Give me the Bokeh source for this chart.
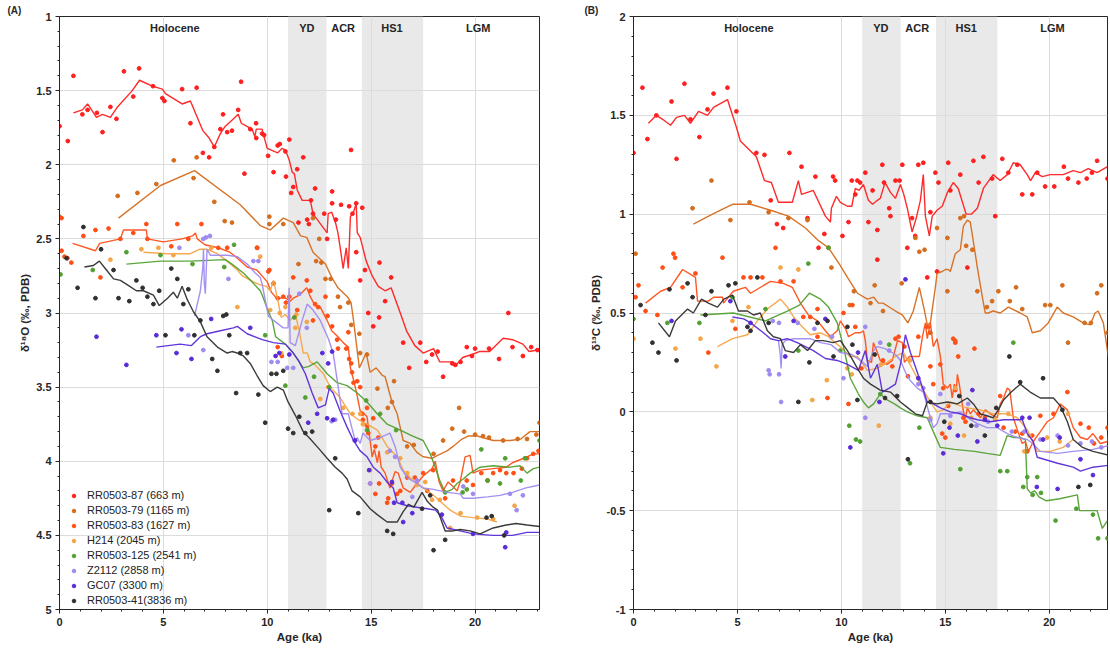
from bokeh.plotting import figure
from bokeh.models import (Range1d, SingleIntervalTicker, BoxAnnotation, Label,
                          Legend, LegendItem, CustomJSTickFormatter)
from bokeh.layouts import row
from bokeh.embed import file_html
from bokeh.resources import INLINE

FONT = "Liberation Sans"
INK = "#262626"

# ---------------------------------------------------------------- metadata
CORES = ["RR0503-87 (663 m)", "RR0503-79 (1165 m)", "RR0503-83 (1627 m)", "H214 (2045 m)",
         "RR0503-125 (2541 m)", "Z2112 (2858 m)", "GC07 (3300 m)", "RR0503-41(3836 m)"]
COLORS = ["#ff1f1f", "#d56d1e", "#ff4f17", "#f5a447", "#52a032", "#9f8bf0", "#5a2cd8", "#303030"]

INTERVAL_NAMES = ["Holocene", "YD", "ACR", "HS1", "LGM"]
INTERVAL_CENTERS = [5.55, 11.9, 13.65, 16.0, 20.15]
SHADED_BANDS = [(11.0, 12.85), (14.55, 17.5)]

# ---------------------------------------------------------------- d18O (panel A): (age ka, permil)
rr87_d18o_line = [(0.67,1.65),(1.1,1.63),(1.35,1.59),(1.78,1.68),(2.07,1.66),(2.45,1.68),(2.79,1.61),(3.5,1.50),(3.85,1.43),(4.47,1.47),(4.95,1.49),(5.1,1.52),(5.9,1.59),(6.3,1.57),(6.9,1.77),(7.2,1.82),(7.45,1.88),(7.74,1.79),(7.98,1.74),(8.3,1.70),(8.6,1.66),(8.75,1.72),(9.0,1.74),(9.27,1.76),(9.4,1.81),(9.47,1.76),(9.75,1.76),(9.8,1.79),(10.0,1.89),(10.5,1.92),(10.7,1.89),(10.87,1.90),(11.06,1.97),(11.2,2.05),(11.3,2.06),(11.44,2.17),(11.54,2.20),(11.68,2.24),(12.07,2.24),(12.2,2.33),(12.3,2.35),(12.88,2.46),(12.93,2.33),(13.1,2.32),(13.3,2.40),(13.4,2.46),(13.55,2.60),(13.65,2.70),(13.8,2.56),(13.9,2.70),(14.0,2.35),(14.15,2.32),(14.28,2.26),(14.33,2.46),(14.47,2.49),(14.76,2.65),(15.05,2.75),(15.34,2.82),(15.67,2.85),(15.96,2.83),(16.4,3.0),(16.7,3.12),(17.1,3.22),(17.5,3.27),(18.0,3.24),(18.3,3.33),(18.9,3.33),(19.1,3.35),(19.4,3.30),(19.85,3.28),(20.2,3.26),(20.7,3.26),(21.35,3.17),(21.8,3.18),(22.3,3.21),(22.6,3.26),(23.0,3.25)]
rr87_d18o_pts = [(0.0,1.74),(0.4,1.84),(0.67,1.40),(1.1,1.66),(1.35,1.63),(1.8,1.65),(2.07,1.78),(2.45,1.61),(2.74,1.69),(3.1,1.37),(3.55,1.54),(3.83,1.35),(4.5,1.47),(4.95,1.55),(5.05,1.57),(5.9,1.49),(6.3,1.72),(6.6,1.48),(6.9,1.92),(7.2,1.95),(7.45,1.88),(7.74,1.76),(7.87,1.66),(8.07,1.78),(8.3,1.77),(8.6,1.63),(8.74,1.44),(8.9,2.06),(9.18,1.76),(9.46,1.72),(9.47,1.82),(9.75,1.79),(9.85,1.80),(10.04,1.94),(10.3,2.05),(10.5,1.87),(10.6,1.86),(10.87,1.91),(10.9,2.08),(11.06,1.83),(11.15,2.19),(11.25,2.15),(11.44,2.03),(11.5,2.39),(11.73,1.95),(11.92,2.37),(12.0,2.40),(12.1,2.24),(12.3,2.16),(12.2,2.33),(12.74,2.33),(12.88,2.50),(13.12,2.18),(13.12,2.26),(13.3,2.37),(13.55,2.27),(13.94,2.28),(14.03,1.90),(14.1,2.33),(14.28,2.26),(14.57,2.29),(14.28,2.59),(14.47,2.78),(14.7,2.71),(15.4,2.66),(15.96,2.76),(15.67,2.92),(14.86,3.0),(15.1,3.09),(15.38,3.03),(16.54,3.2),(16.83,3.37),(17.36,3.2),(17.65,3.33),(17.93,3.28),(18.2,3.26),(18.46,3.43),(18.9,3.34),(19.05,3.35),(19.3,3.33),(19.6,3.23),(19.85,3.29),(20.0,3.24),(20.67,3.24),(21.15,3.31),(21.6,3.0),(21.8,3.23),(22.3,3.29),(22.7,3.23),(23.0,3.25)]

rr79_d18o_line = [(2.84,2.36),(4.86,2.14),(6.5,2.04),(8.7,2.27),(9.66,2.41),(10.14,2.44),(10.77,2.36),(11.25,2.39),(11.6,2.48),(11.9,2.49),(12.2,2.59),(12.5,2.63),(12.8,2.67),(13.1,2.76),(13.4,2.83),(13.85,2.89),(14.03,2.93),(14.15,3.05),(14.28,3.2),(14.43,3.37),(14.76,3.27),(14.95,3.4),(15.24,3.37),(15.53,3.42),(15.67,3.43),(16.0,3.6),(16.25,3.68),(16.54,3.86),(16.88,3.88),(17.2,3.94),(17.5,3.97),(17.93,3.98),(18.2,3.96),(18.65,3.93),(18.94,3.9),(19.37,3.85),(19.66,3.83),(20.1,3.83),(20.87,3.86),(21.7,3.86),(22.2,3.85),(22.64,3.8),(23.1,3.8)]
rr79_d18o_pts = [(0.0,2.35),(2.8,2.21),(3.75,2.19),(4.66,2.13),(5.5,1.97),(6.45,2.09),(6.6,1.95),(7.45,2.25),(7.95,2.38),(8.3,2.39),(9.5,2.56),(10.1,2.35),(10.1,2.40),(10.77,2.40),(11.5,2.67),(12.2,2.36),(12.5,2.50),(12.35,2.65),(12.6,2.66),(12.8,2.77),(13.05,2.77),(13.4,2.89),(13.5,2.96),(13.9,2.93),(14.04,3.08),(14.43,3.14),(14.47,3.27),(14.8,3.28),(15.3,3.51),(15.8,3.64),(16.0,3.60),(16.1,3.46),(16.73,3.90),(17.05,3.89),(18.0,3.95),(18.46,3.86),(18.9,3.78),(19.23,3.64),(19.47,3.80),(20.0,3.82),(20.38,3.83),(20.67,3.84),(21.35,3.86),(22.05,3.85),(22.5,3.85),(22.95,3.82),(23.1,3.74)]

rr83_d18o_line = [(0.63,2.53),(1.73,2.58),(1.93,2.53),(2.93,2.50),(3.08,2.44),(4.18,2.44),(4.23,2.50),(5.0,2.52),(5.9,2.50),(6.4,2.48),(6.54,2.46),(6.63,2.50),(7.0,2.54),(7.64,2.56),(8.2,2.59),(8.56,2.63),(9.03,2.69),(9.5,2.71),(10.0,2.79),(10.2,2.86),(10.5,2.91),(10.77,2.89),(11.1,2.92),(11.25,2.90),(11.54,2.88),(11.9,2.83),(12.07,2.89),(12.3,2.95),(12.55,2.96),(12.88,3.05),(13.1,3.12),(13.4,3.16),(13.65,3.2),(13.9,3.23),(14.0,3.37),(14.15,3.45),(14.3,3.54),(14.47,3.66),(14.66,3.68),(14.8,3.70),(14.9,3.81),(15.05,3.97),(15.15,3.92),(15.3,4.01),(15.38,3.93),(15.48,4.04),(15.67,4.08),(15.9,4.18),(16.15,4.07),(16.3,4.08),(16.54,4.18),(16.88,4.21),(17.2,4.15),(17.5,4.1),(17.93,4.05),(18.08,4.0),(18.27,4.14),(18.46,4.2),(18.7,4.14),(18.94,4.17),(19.13,4.2),(19.28,4.14),(19.52,3.97),(19.76,3.96),(19.9,4.08),(20.24,4.06),(20.87,4.05),(21.5,4.04),(21.8,4.01),(22.16,3.99),(22.5,3.97),(22.8,3.95),(23.1,3.95)]
rr83_d18o_pts = [(0.1,2.36),(0.1,2.58),(0.24,2.62),(0.38,2.63),(0.57,2.66),(1.15,2.48),(1.73,2.44),(1.97,2.76),(2.36,2.43),(2.93,2.5),(3.55,2.46),(4.18,2.40),(4.23,2.5),(5.38,2.55),(5.67,2.40),(6.2,2.5),(6.83,2.40),(7.64,2.56),(8.07,2.56),(9.52,2.56),(10.05,2.72),(10.1,2.71),(10.3,2.80),(10.5,2.90),(10.5,3.23),(10.7,3.29),(10.77,2.89),(10.9,2.93),(11.06,2.89),(11.25,2.76),(11.44,2.98),(11.9,2.78),(12.07,2.85),(12.2,3.05),(12.3,2.94),(12.45,2.96),(12.8,2.89),(12.9,3.02),(13.12,3.09),(13.36,3.18),(13.4,3.24),(13.8,3.24),(13.9,3.13),(13.94,3.31),(14.04,3.34),(14.08,3.40),(14.15,3.47),(14.33,3.46),(14.47,3.5),(14.57,3.68),(14.6,3.72),(14.8,3.64),(14.8,3.76),(14.86,3.81),(15.1,3.71),(15.2,3.90),(15.34,3.84),(14.95,4.15),(15.2,4.22),(15.38,4.15),(15.82,4.25),(15.77,4.28),(16.0,4.15),(16.25,4.22),(16.4,4.20),(16.73,4.11),(17.1,4.11),(17.5,4.08),(17.7,4.20),(17.98,4.06),(18.56,4.25),(18.94,4.13),(19.6,4.13),(19.9,4.16),(20.3,4.08),(20.6,4.13),(20.87,4.08),(21.2,4.06),(21.5,4.08),(21.85,4.08),(22.25,4.05),(22.5,3.98),(22.8,3.95),(23.05,3.93)]

h214_d18o_line = [(4.04,2.59),(5.2,2.6),(6.3,2.6),(6.73,2.57),(7.1,2.57),(7.6,2.6),(8.07,2.65),(8.56,2.71),(8.8,2.75),(9.33,2.79),(9.66,2.81),(9.95,2.82),(10.14,2.85),(10.3,2.78),(10.5,2.91),(10.67,3.03),(10.87,3.01),(11.1,3.05),(11.35,3.01),(11.54,3.12),(11.73,3.27),(11.92,3.27),(12.07,3.33),(12.3,3.35),(12.7,3.41),(13.03,3.5),(13.5,3.57),(14.0,3.68),(14.38,3.72),(14.8,3.75),(15.3,3.79),(15.77,3.9),(16.25,3.97),(16.54,4.06),(17.0,4.13),(17.5,4.18),(18.0,4.23),(18.4,4.28),(18.8,4.33),(19.3,4.37),(19.9,4.38),(20.6,4.39),(21.05,4.41)]
h214_d18o_pts = [(2.45,2.64),(3.94,2.57),(4.76,2.56),(5.48,2.61),(7.3,2.56),(8.56,2.96),(9.66,2.62),(10.14,2.98),(10.6,3.0),(10.67,3.27),(10.87,2.96),(11.35,3.1),(11.4,3.01),(11.9,3.06),(12.55,3.58),(12.93,3.50),(13.65,3.64),(14.1,3.68),(14.47,3.68),(14.6,3.75),(14.95,4.06),(15.77,3.94),(16.4,3.98),(16.73,4.08),(17.2,4.16),(17.6,4.14),(17.93,4.26),(18.3,4.26),(18.8,4.45),(19.3,4.35),(20.1,4.38),(20.87,4.39),(21.9,4.30)]

rr125_d18o_line = [(3.22,2.67),(4.86,2.65),(6.3,2.65),(7.98,2.64),(8.3,2.67),(8.85,2.73),(9.33,2.8),(9.66,2.85),(9.76,2.88),(10.05,2.99),(10.24,3.05),(10.4,3.16),(10.87,3.21),(11.25,3.27),(11.73,3.37),(12.0,3.36),(12.4,3.33),(12.88,3.41),(13.36,3.47),(13.84,3.49),(14.33,3.54),(14.8,3.6),(15.29,3.68),(15.77,3.75),(16.4,3.79),(17.0,3.83),(17.5,3.86),(17.84,3.95),(18.08,4.04),(18.3,4.13),(18.56,4.21),(18.9,4.19),(19.13,4.15),(19.43,4.12),(19.76,4.08),(20.24,4.04),(20.87,4.03),(21.68,4.04),(22.16,4.03),(22.5,4.08),(22.8,4.05),(23.1,4.04)]
rr125_d18o_pts = [(0.05,2.74),(1.6,2.71),(3.22,2.59),(4.86,2.61),(6.4,2.67),(7.93,2.69),(8.4,2.54),(9.9,3.15),(10.87,3.49),(11.3,3.03),(11.83,3.57),(12.25,3.43),(12.98,3.50),(14.76,3.59),(14.8,3.79),(15.43,3.68),(16.2,3.79),(18.56,4.21),(19.4,4.21),(19.6,4.19),(20.3,3.92),(20.6,4.13),(21.2,4.15),(21.45,3.98),(22.2,4.13),(22.4,3.98),(23.1,3.86)]

z2112_d18o_line = [(6.5,3.02),(6.78,2.85),(6.9,2.69),(6.93,2.57),(6.97,2.80),(7.02,2.87),(7.1,2.57),(7.26,2.61),(7.74,2.61),(8.07,2.61),(8.56,2.62),(9.03,2.67),(9.42,2.73),(9.66,2.76),(9.76,2.81),(10.05,3.02),(10.3,3.05),(10.77,3.1),(11.0,3.1),(11.05,2.83),(11.1,3.2),(11.35,3.22),(11.68,3.05),(11.92,2.94),(12.2,2.98),(12.55,3.05),(12.93,3.17),(13.17,3.27),(13.36,3.45),(13.6,3.68),(13.9,3.68),(14.08,3.78),(14.23,3.86),(14.33,3.84),(14.47,3.88),(14.6,3.81),(14.95,3.86),(15.43,3.84),(15.9,3.81),(16.15,3.9),(16.4,4.04),(16.73,4.11),(17.2,4.15),(17.5,4.18),(18.0,4.19),(18.65,4.21),(19.28,4.22),(19.43,4.25),(19.9,4.25),(20.6,4.24),(21.2,4.23),(21.8,4.21),(22.45,4.18),(23.1,4.16)]
z2112_d18o_pts = [(5.77,2.56),(6.2,3.15),(6.92,2.5),(7.05,2.49),(7.24,2.48),(6.92,3.25),(8.13,2.77),(9.33,2.65),(9.57,2.65),(10.2,3.33),(10.5,3.33),(10.96,3.37),(11.25,3.37),(11.54,2.87),(11.9,3.1),(13.1,3.73),(13.27,3.72),(14.2,3.86),(14.95,4.15),(15.9,3.93),(16.15,3.97),(16.98,4.24),(17.2,4.13),(19.43,4.17),(19.9,4.22),(21.68,4.22),(22.0,4.33),(22.3,4.23)]

gc07_d18o_line = [(4.66,3.23),(5.8,3.21),(6.35,3.22),(6.78,3.16),(7.1,3.14),(7.74,3.12),(8.37,3.1),(8.56,3.09),(9.03,3.14),(9.76,3.18),(10.29,3.2),(10.87,3.21),(11.25,3.27),(11.5,3.32),(11.83,3.41),(12.16,3.54),(12.45,3.64),(12.8,3.62),(12.98,3.51),(13.17,3.54),(13.5,3.66),(13.84,3.77),(14.15,3.86),(14.47,3.93),(14.8,3.97),(15.1,4.04),(15.43,4.08),(15.82,4.15),(16.06,4.18),(16.25,4.28),(16.73,4.3),(17.2,4.31),(17.7,4.32),(18.1,4.33),(18.4,4.38),(18.65,4.45),(19.28,4.47),(19.9,4.49),(20.87,4.5),(21.8,4.5),(22.5,4.48),(23.1,4.48)]
gc07_d18o_pts = [(1.78,3.16),(3.22,3.35),(4.66,3.15),(5.63,3.27),(5.87,3.11),(6.35,3.31),(7.3,3.04),(9.18,3.1),(10.4,3.29),(10.58,3.27),(11.06,3.28),(11.97,3.74),(12.4,3.68),(12.65,3.27),(12.88,3.71),(12.93,3.34),(13.12,3.26),(13.17,3.72),(14.23,3.86),(14.9,4.06),(16.0,4.14),(16.1,4.28),(16.5,4.28),(16.54,4.41),(16.98,4.35),(18.4,4.36),(19.9,4.49),(21.5,4.48),(21.45,4.58)]

rr41_d18o_line = [(1.2,2.69),(1.63,2.68),(1.92,2.65),(2.26,2.71),(2.6,2.77),(2.93,2.78),(3.27,2.81),(3.7,2.85),(4.04,2.85),(4.52,2.88),(4.8,2.95),(5.2,2.9),(5.48,2.86),(5.67,2.9),(5.9,2.82),(6.15,2.91),(6.44,2.99),(6.78,3.06),(7.1,3.16),(7.6,3.23),(8.07,3.27),(8.3,3.26),(8.56,3.27),(8.85,3.29),(9.18,3.34),(9.5,3.42),(9.8,3.49),(10.14,3.53),(10.48,3.50),(10.77,3.52),(11.0,3.6),(11.35,3.69),(11.73,3.8),(12.07,3.85),(12.45,3.91),(12.88,3.98),(13.27,4.04),(13.6,4.08),(13.84,4.12),(14.08,4.2),(14.47,4.24),(14.95,4.32),(15.29,4.36),(15.77,4.41),(16.25,4.41),(16.54,4.34),(16.8,4.29),(17.05,4.31),(17.45,4.21),(17.7,4.27),(17.98,4.31),(18.2,4.33),(18.56,4.47),(18.94,4.47),(19.28,4.46),(19.76,4.47),(20.24,4.49),(20.87,4.45),(21.5,4.43),(21.97,4.42),(22.5,4.43),(23.1,4.44)]
rr41_d18o_pts = [(0.34,2.63),(0.87,2.83),(1.15,2.42),(1.73,2.9),(2.0,2.57),(2.6,2.71),(2.84,2.9),(3.36,2.92),(3.7,2.78),(4.0,2.83),(4.23,2.89),(4.52,2.94),(4.8,2.85),(5.1,3.15),(5.38,2.7),(5.67,2.77),(5.96,2.94),(6.2,2.84),(6.49,3.15),(6.78,3.05),(7.35,3.31),(7.6,3.39),(7.88,3.02),(8.03,3.01),(8.17,3.15),(8.5,3.54),(8.7,3.27),(9.03,3.27),(9.57,3.55),(9.9,3.74),(10.2,3.41),(10.44,3.41),(10.77,3.39),(11.0,3.78),(11.25,3.81),(11.54,3.70),(11.83,3.81),(12.16,3.80),(12.98,4.33),(13.27,3.98),(14.38,4.35),(15.77,4.47),(16.06,4.49),(17.45,4.32),(17.84,4.23),(18.0,4.6),(18.56,4.53),(20.55,4.38),(20.8,4.37),(21.4,4.5)]

# ---------------------------------------------------------------- d13C (panel B): (age ka, permil)
rr87_d13c_line = [(0.72,1.46),(1.1,1.50),(1.4,1.48),(1.78,1.45),(2.07,1.49),(2.45,1.50),(2.74,1.46),(3.13,1.52),(3.56,1.50),(3.85,1.54),(4.52,1.58),(4.95,1.44),(5.14,1.37),(5.91,1.29),(6.3,1.17),(6.63,1.16),(6.97,1.06),(7.64,1.06),(7.93,1.17),(8.08,1.10),(8.65,1.12),(9.23,0.99),(9.47,0.96),(9.52,1.03),(9.76,1.09),(9.95,1.06),(10.29,1.04),(10.5,1.04),(10.67,1.13),(10.85,1.12),(11.06,1.15),(11.3,1.07),(11.5,1.05),(11.73,1.07),(11.87,1.08),(12.1,1.16),(12.36,1.11),(12.6,1.08),(12.84,1.15),(13.0,1.10),(13.17,1.03),(13.4,0.91),(13.6,0.98),(13.8,1.07),(13.94,1.2),(14.04,0.99),(14.23,0.89),(14.37,0.99),(14.6,1.02),(14.85,1.04),(15.1,1.11),(15.38,1.16),(15.62,1.13),(16.0,1.0),(16.25,1.0),(16.54,1.03),(16.83,1.13),(17.3,1.2),(17.64,1.17),(17.98,1.2),(18.27,1.26),(18.6,1.25),(18.94,1.2),(19.1,1.17),(19.33,1.21),(19.66,1.19),(20.05,1.2),(20.67,1.2),(21.15,1.22),(21.5,1.21),(21.87,1.23),(22.3,1.21),(22.8,1.24)]
rr87_d13c_pts = [(0.0,1.31),(0.43,1.64),(0.67,1.38),(1.1,1.50),(1.83,1.57),(2.07,1.28),(2.45,1.66),(2.74,1.48),(3.17,1.39),(3.56,1.53),(3.85,1.61),(4.52,1.64),(4.95,1.52),(5.91,1.31),(6.3,1.30),(6.6,1.07),(6.9,0.95),(7.2,0.93),(7.5,1.31),(8.08,1.24),(8.37,0.98),(8.75,1.19),(8.9,0.83),(9.18,0.90),(9.6,1.19),(9.7,1.17),(10.05,0.89),(10.34,0.96),(10.5,1.17),(10.67,1.10),(10.77,1.17),(10.9,1.16),(11.15,1.21),(11.3,0.96),(11.5,1.12),(11.73,0.92),(11.73,0.77),(11.97,1.25),(12.05,1.16),(12.3,1.03),(12.36,0.99),(12.6,1.17),(12.8,1.17),(12.93,1.25),(13.17,0.83),(13.4,0.98),(13.55,0.89),(13.7,1.25),(13.94,1.26),(14.13,0.68),(14.28,1.01),(14.52,1.21),(14.67,1.16),(14.6,0.71),(15.14,1.26),(15.24,1.12),(15.72,1.2),(16.06,0.73),(16.35,1.27),(16.6,1.16),(16.83,1.29),(17.25,1.18),(17.4,0.99),(17.74,1.28),(18.03,1.21),(18.46,1.25),(18.7,1.1),(19.18,1.1),(19.42,1.21),(19.8,1.14),(20.24,1.14),(20.7,1.24),(20.9,1.18),(21.4,1.16),(21.8,1.18),(22.05,1.21),(22.3,1.27),(22.8,1.18)]

rr79_d13c_line = [(2.88,0.95),(3.8,1.0),(4.76,1.05),(5.63,1.05),(6.6,1.02),(7.45,0.99),(8.27,0.93),(8.85,0.87),(9.38,0.83),(9.95,0.74),(10.29,0.68),(10.77,0.6),(11.25,0.57),(11.55,0.58),(11.78,0.55),(12.0,0.55),(12.6,0.51),(12.93,0.49),(13.2,0.45),(13.46,0.51),(13.75,0.63),(14.0,0.51),(14.13,0.44),(14.28,0.45),(14.52,0.63),(14.6,0.70),(14.85,0.71),(15.0,0.72),(15.14,0.72),(15.24,0.71),(15.48,0.8),(15.72,0.82),(15.87,0.94),(16.06,0.97),(16.2,0.96),(16.35,0.86),(16.54,0.73),(16.78,0.58),(16.92,0.50),(17.06,0.50),(17.3,0.51),(17.64,0.5),(18.03,0.53),(18.6,0.5),(18.94,0.48),(19.18,0.4),(19.57,0.41),(19.95,0.45),(20.38,0.53),(20.67,0.50),(21.15,0.48),(21.63,0.45),(21.97,0.44),(22.2,0.5),(22.35,0.51),(22.6,0.45),(22.84,0.28)]
rr79_d13c_pts = [(0.1,0.80),(2.84,1.03),(3.75,1.17),(4.66,0.97),(5.58,1.06),(6.5,1.01),(7.45,0.98),(8.37,0.97),(9.38,0.83),(9.52,0.73),(10.4,0.54),(10.6,0.61),(11.6,0.64),(11.4,0.55),(12.0,0.51),(12.9,0.65),(13.56,0.88),(13.75,0.81),(14.0,0.82),(14.28,0.4),(14.6,0.93),(15.1,0.88),(15.1,0.61),(15.48,0.36),(15.72,0.98),(15.9,0.99),(16.0,0.84),(16.3,0.82),(16.54,0.61),(17.0,0.53),(17.25,0.56),(17.55,0.61),(18.1,0.56),(18.4,0.63),(18.7,0.52),(19.8,0.54),(20.05,0.54),(20.63,0.64),(20.9,0.35),(21.7,0.45),(22.0,0.45),(22.3,0.60),(22.5,0.64),(22.8,0.4)]

rr83_d13c_line = [(0.58,0.55),(1.3,0.61),(1.78,0.63),(2.36,0.72),(2.98,0.68),(3.08,0.56),(3.6,0.56),(3.85,0.58),(4.28,0.58),(4.33,0.55),(4.8,0.61),(5.38,0.63),(5.63,0.6),(6.59,0.66),(7.2,0.65),(7.64,0.63),(8.03,0.55),(8.41,0.49),(8.85,0.46),(9.23,0.41),(9.47,0.38),(9.8,0.41),(9.95,0.46),(10.2,0.42),(10.34,0.38),(10.67,0.4),(10.91,0.40),(11.06,0.41),(11.15,0.36),(11.25,0.26),(11.45,0.25),(11.54,0.35),(11.73,0.30),(11.87,0.26),(12.0,0.25),(12.2,0.24),(12.45,0.26),(12.7,0.36),(12.93,0.35),(13.03,0.25),(13.27,0.28),(13.51,0.28),(13.75,0.28),(13.9,0.38),(14.04,0.45),(14.13,0.37),(14.28,0.45),(14.42,0.33),(14.6,0.37),(14.76,0.28),(14.9,0.14),(15.1,0.12),(15.24,0.14),(15.33,0.07),(15.43,0.14),(15.53,0.11),(15.58,0.19),(15.67,0.14),(15.87,0.0),(15.97,-0.03),(16.06,0.02),(16.2,-0.01),(16.35,0.01),(16.68,-0.03),(16.92,0.01),(17.16,-0.01),(17.5,-0.03),(17.64,0.04),(17.8,0.07),(17.98,0.12),(18.1,0.11),(18.27,-0.03),(18.46,-0.09),(18.7,-0.16),(18.85,-0.15),(19.0,-0.2),(19.23,-0.15),(19.57,-0.1),(19.9,-0.05),(20.2,-0.03),(20.53,0.04),(20.87,0.01),(21.15,-0.08),(21.5,-0.13),(21.83,-0.14),(22.1,-0.11),(22.45,-0.16),(22.8,-0.15),(22.95,-0.05)]
rr83_d13c_pts = [(0.1,0.58),(0.24,0.64),(0.58,0.51),(1.15,0.49),(1.4,0.73),(1.92,0.8),(2.0,0.78),(2.36,0.63),(2.98,0.7),(3.6,0.30),(4.28,0.78),(4.9,0.42),(5.29,0.68),(5.63,0.68),(6.2,0.68),(6.83,0.83),(7.07,0.66),(7.7,0.66),(8.17,0.48),(8.5,0.48),(8.85,0.52),(8.85,0.38),(9.33,0.07),(10.34,0.04),(10.53,0.54),(10.1,0.5),(10.67,0.43),(10.96,0.22),(12.0,0.26),(12.45,0.23),(12.6,0.37),(12.75,0.38),(13.03,0.33),(13.2,0.18),(13.7,0.38),(14.13,0.43),(14.28,0.23),(14.76,0.24),(14.42,0.14),(14.9,0.12),(14.85,-0.11),(15.0,-0.13),(15.14,0.03),(15.38,0.37),(15.48,0.35),(15.62,0.28),(15.48,0.11),(15.87,-0.03),(15.97,-0.05),(16.4,0.32),(16.6,-0.01),(16.9,-0.03),(17.64,0.08),(17.8,-0.08),(18.36,-0.1),(18.7,-0.11),(18.94,-0.2),(19.18,-0.12),(19.57,-0.02),(20.2,-0.01),(20.87,0.1),(21.5,-0.06),(21.9,-0.08),(22.15,-0.16),(22.5,-0.13),(22.8,-0.08)]

h214_d13c_line = [(4.04,0.33),(4.76,0.37),(5.48,0.39),(5.96,0.46),(6.44,0.52),(7.07,0.57),(7.4,0.53),(7.7,0.48),(8.12,0.43),(8.5,0.39),(9.0,0.40),(9.38,0.38),(9.7,0.35),(10.05,0.32),(10.4,0.28),(10.77,0.28),(11.25,0.21),(11.73,0.22),(12.2,0.25),(12.6,0.28),(12.98,0.30),(13.3,0.24),(13.65,0.17),(13.94,0.11),(14.28,0.05),(14.6,0.0),(14.9,0.01),(15.24,0.05),(15.72,0.03),(16.06,0.02),(16.68,0.01),(17.3,-0.01),(17.98,-0.01),(18.46,-0.03),(18.94,-0.09),(19.42,-0.2),(20.05,-0.2),(20.67,-0.18),(21.15,-0.14)]
h214_d13c_pts = [(0.0,0.37),(2.02,0.32),(3.22,0.37),(3.99,0.23),(4.76,0.46),(5.53,0.53),(7.07,0.73),(7.93,0.72),(8.6,0.06),(9.3,0.16),(10.29,0.22),(10.5,0.19),(11.8,-0.07),(11.9,0.24),(13.3,0.26),(14.28,-0.03),(15.24,-0.06),(15.48,0.12),(15.9,-0.12),(16.25,-0.03),(17.4,-0.04),(18.03,-0.01),(18.8,-0.2),(19.04,-0.12),(19.9,-0.13),(20.5,-0.15),(20.9,-0.01)]

rr125_d13c_line = [(3.22,0.49),(4.8,0.50),(6.35,0.46),(7.4,0.51),(7.98,0.54),(8.46,0.60),(9.0,0.57),(9.38,0.53),(9.8,0.45),(10.1,0.33),(10.43,0.17),(10.82,0.09),(11.06,0.05),(11.3,0.02),(11.55,0.04),(11.87,0.09),(12.2,0.06),(12.55,0.04),(12.84,0.02),(13.17,0.0),(13.65,-0.02),(14.13,-0.03),(14.42,-0.10),(14.76,-0.18),(15.43,-0.19),(16.4,-0.2),(17.0,-0.21),(17.64,-0.22),(17.98,-0.12),(18.3,-0.13),(18.6,-0.13),(18.85,-0.14),(18.94,-0.39),(19.1,-0.41),(19.3,-0.40),(19.5,-0.43),(19.86,-0.45),(20.5,-0.44),(21.35,-0.42),(21.45,-0.50),(22.3,-0.50),(22.55,-0.59),(22.8,-0.55)]
rr125_d13c_pts = [(0.0,0.47),(1.63,0.45),(3.17,0.45),(4.76,0.58),(6.35,0.52),(7.93,0.31),(8.41,0.75),(9.38,0.83),(9.95,0.31),(10.38,-0.07),(10.7,-0.14),(10.9,-0.15),(11.87,0.09),(12.3,0.34),(13.3,-0.26),(13.75,-0.08),(15.72,-0.29),(17.64,-0.30),(17.98,-0.3),(18.27,0.35),(18.75,-0.38),(18.94,-0.33),(19.2,-0.42),(19.42,-0.33),(19.6,-0.41),(20.3,-0.55),(21.3,-0.49),(22.1,-0.52),(22.35,-0.64),(22.8,-0.64)]

z2112_d13c_line = [(6.97,0.36),(7.05,0.30),(7.1,0.22),(7.15,0.34),(7.3,0.36),(7.7,0.37),(8.5,0.37),(9.0,0.35),(9.5,0.34),(9.95,0.30),(10.5,0.29),(10.91,0.26),(11.25,0.23),(11.55,0.31),(11.73,0.33),(12.1,0.32),(12.6,0.29),(12.84,0.26),(13.08,0.2),(13.3,0.16),(13.65,0.12),(13.94,0.10),(14.28,-0.03),(14.42,-0.08),(14.6,-0.06),(14.76,-0.01),(15.24,-0.01),(15.72,0.0),(16.06,-0.03),(16.54,-0.06),(17.0,-0.08),(17.5,-0.08),(17.98,-0.11),(18.46,-0.13),(18.94,-0.14),(19.2,-0.16),(19.57,-0.2),(20.4,-0.21),(21.15,-0.2),(22.1,-0.19),(22.9,-0.17)]
z2112_d13c_pts = [(6.5,0.21),(6.55,0.19),(6.7,0.46),(7.0,0.19),(7.1,0.05),(7.0,0.45),(7.9,0.45),(8.7,0.42),(9.55,0.38),(10.1,0.17),(11.15,0.43),(11.15,-0.03),(11.87,0.35),(12.3,0.31),(13.7,0.14),(13.94,0.12),(14.28,-0.04),(14.76,0.09),(15.24,-0.02),(16.1,0.04),(16.5,-0.07),(17.05,-0.05),(18.2,-0.1),(18.8,-0.1),(19.57,-0.14),(20.4,-0.12),(20.9,-0.17),(21.5,-0.16),(22.05,-0.15),(22.5,-0.18)]

gc07_d13c_line = [(4.76,0.48),(5.3,0.47),(5.63,0.45),(6.25,0.40),(6.59,0.37),(6.97,0.36),(7.4,0.37),(7.88,0.35),(8.65,0.31),(9.23,0.27),(9.8,0.26),(10.29,0.24),(10.82,0.21),(11.15,0.31),(11.4,0.17),(11.73,0.24),(11.97,0.10),(12.3,0.12),(12.6,0.14),(12.84,0.24),(13.08,0.39),(13.32,0.30),(13.65,0.20),(13.94,0.11),(14.13,0.05),(14.42,0.04),(14.76,0.02),(15.24,0.0),(15.72,-0.01),(16.2,-0.03),(16.54,-0.04),(17.16,-0.05),(17.8,-0.04),(18.46,-0.04),(18.7,-0.04),(18.94,-0.11),(19.23,-0.15),(19.42,-0.23),(20.4,-0.26),(21.15,-0.28),(21.5,-0.30),(22.1,-0.28),(22.9,-0.27)]
gc07_d13c_pts = [(1.83,0.46),(4.66,0.56),(5.63,0.45),(7.3,0.28),(7.7,0.46),(9.23,0.47),(10.43,-0.18),(10.8,0.30),(11.83,0.05),(13.08,0.67),(13.7,0.17),(14.9,-0.21),(15.2,-0.08),(15.6,-0.12),(16.3,0.11),(16.54,-0.15),(16.9,-0.04),(17.5,-0.07),(18.7,-0.03),(19.05,-0.03),(19.4,-0.38),(19.7,-0.14),(20.4,-0.39),(20.5,-0.13),(21.5,-0.24),(22.1,-0.32)]

rr41_d13c_line = [(1.2,0.45),(1.73,0.38),(2.02,0.46),(2.6,0.52),(2.88,0.50),(3.27,0.57),(3.6,0.55),(4.04,0.53),(4.35,0.57),(4.76,0.59),(5.05,0.51),(5.48,0.51),(5.77,0.49),(6.1,0.50),(6.44,0.41),(6.73,0.38),(7.07,0.37),(7.3,0.31),(7.7,0.30),(8.03,0.34),(8.37,0.31),(8.75,0.36),(9.13,0.36),(9.6,0.35),(9.95,0.36),(10.29,0.31),(10.77,0.22),(11.06,0.17),(11.4,0.14),(11.87,0.11),(12.36,0.10),(12.84,0.05),(13.2,0.02),(13.56,-0.01),(13.9,-0.02),(14.13,0.05),(14.6,0.04),(15.1,0.05),(15.58,0.04),(16.06,0.07),(16.35,0.04),(16.68,-0.01),(17.0,-0.02),(17.3,-0.03),(17.55,0.01),(17.8,0.06),(18.17,0.1),(18.6,0.14),(19.08,0.1),(19.57,0.07),(20.2,0.07),(20.53,0.03),(20.87,-0.05),(21.15,-0.14),(21.6,-0.18),(22.1,-0.2),(22.9,-0.22)]
rr41_d13c_pts = [(0.34,0.54),(0.91,0.35),(1.2,0.30),(1.73,0.62),(2.07,0.26),(2.6,0.65),(2.84,0.58),(3.46,0.49),(3.75,0.61),(4.57,0.64),(4.9,0.65),(5.48,0.43),(5.63,0.41),(5.96,0.68),(6.5,0.45),(7.93,0.05),(8.46,0.25),(8.85,0.45),(9.33,0.46),(9.62,0.28),(10.29,0.43),(10.77,0.06),(10.53,0.34),(11.6,0.29),(12.1,0.07),(12.68,0.08),(13.2,-0.24),(14.28,0.05),(14.95,-0.05),(15.67,0.08),(16.25,-0.07),(16.9,-0.12),(17.45,0.02),(18.08,0.28),(18.6,0.15),(19.7,0.17),(20.63,0.01),(21.4,-0.38),(21.97,-0.37)]

D18O_SERIES = [(rr87_d18o_line, rr87_d18o_pts), (rr79_d18o_line, rr79_d18o_pts), (rr83_d18o_line, rr83_d18o_pts),
               (h214_d18o_line, h214_d18o_pts), (rr125_d18o_line, rr125_d18o_pts), (z2112_d18o_line, z2112_d18o_pts),
               (gc07_d18o_line, gc07_d18o_pts), (rr41_d18o_line, rr41_d18o_pts)]
D13C_SERIES = [(rr87_d13c_line, rr87_d13c_pts), (rr79_d13c_line, rr79_d13c_pts), (rr83_d13c_line, rr83_d13c_pts),
               (h214_d13c_line, h214_d13c_pts), (rr125_d13c_line, rr125_d13c_pts), (z2112_d13c_line, z2112_d13c_pts),
               (gc07_d13c_line, gc07_d13c_pts), (rr41_d13c_line, rr41_d13c_pts)]

FMT = CustomJSTickFormatter(code="return String(Math.round(tick * 10) / 10);")


def style_axis(ax):
    ax.axis_line_color = INK
    ax.axis_line_width = 1
    ax.major_tick_line_color = INK
    ax.minor_tick_line_color = INK
    ax.major_tick_in = 0
    ax.major_tick_out = 4
    ax.minor_tick_in = 0
    ax.minor_tick_out = 2
    ax.formatter = FMT
    ax.major_label_text_font = FONT
    ax.major_label_text_font_size = "11px"
    ax.major_label_text_font_style = "bold"
    ax.major_label_text_color = INK
    ax.major_label_standoff = 4
    ax.axis_label_text_font = FONT
    ax.axis_label_text_font_size = "11.5px"
    ax.axis_label_text_font_style = "bold"
    ax.axis_label_text_color = INK
    ax.axis_label_standoff = 2


def make_panel(width, border_left, border_right, x_end, y_start, y_end, y_label, label_y,
               panel_tag, series):
    p = figure(width=width, height=645, output_backend="svg", toolbar_location=None,
               x_range=Range1d(0, x_end), y_range=Range1d(y_start, y_end),
               min_border_left=border_left, min_border_right=border_right,
               min_border_top=16, min_border_bottom=36,
               title=panel_tag, title_location="above")
    p.background_fill_color = "white"
    p.border_fill_color = "white"
    p.outline_line_color = INK

    p.title.align = "left"
    p.title.offset = -(border_left - 7)
    p.title.standoff = 2
    p.title.text_font = FONT
    p.title.text_font_size = "10px"
    p.title.text_font_style = "bold"
    p.title.text_color = INK

    xt = SingleIntervalTicker(interval=5, num_minor_ticks=5)
    yt = SingleIntervalTicker(interval=0.5, num_minor_ticks=5)
    p.xaxis.ticker = xt
    p.yaxis.ticker = yt
    style_axis(p.xaxis[0])
    style_axis(p.yaxis[0])
    p.xaxis.axis_label = "Age (ka)"
    p.yaxis.axis_label = y_label

    p.xgrid.ticker = xt
    p.ygrid.ticker = yt
    for g in (p.xgrid[0], p.ygrid[0]):
        g.grid_line_color = "#dcdcdc"
        g.grid_line_width = 1

    for lo, hi in SHADED_BANDS:
        p.add_layout(BoxAnnotation(left=lo, right=hi, fill_color="#e9e9e9", fill_alpha=1.0,
                                   line_color=None, level="image"))

    for name, xc in zip(INTERVAL_NAMES, INTERVAL_CENTERS):
        p.add_layout(Label(x=xc, y=label_y, text=name, text_align="center", text_baseline="middle",
                           text_font=FONT, text_font_size="11px", text_font_style="bold",
                           text_color=INK))

    renderers = []
    for (line, pts), color in zip(series, COLORS):
        lx = [a for a, _ in line]
        ly = [v for _, v in line]
        p.line(lx, ly, line_color=color, line_width=1.4, line_alpha=0.95)
        px = [a for a, _ in pts]
        py = [v for _, v in pts]
        r = p.scatter(px, py, marker="circle", size=3.8, fill_color=color, line_color=color)
        renderers.append(r)
    return p, renderers


pA, rendA = make_panel(577, 59, 38, 23.1, 5, 1, "δ¹⁸O (‰, PDB)", 1.08, "(A)", D18O_SERIES)
pB, _ = make_panel(531, 56, 1, 22.8, -1, 2, "δ¹³C (‰, PDB)", 1.94, "(B)", D13C_SERIES)

legend = Legend(items=[LegendItem(label=name, renderers=[r]) for name, r in zip(CORES, rendA)],
                location=(10, 2), padding=2, spacing=1, margin=0,
                glyph_height=9, glyph_width=9, label_height=14, label_standoff=9,
                label_text_font=FONT, label_text_font_size="11px", label_text_color="#222222",
                background_fill_alpha=0, border_line_color=None)
pA.add_layout(legend)

layout = row(pA, pB)
open("out.html", "w").write(file_html(layout, INLINE))
